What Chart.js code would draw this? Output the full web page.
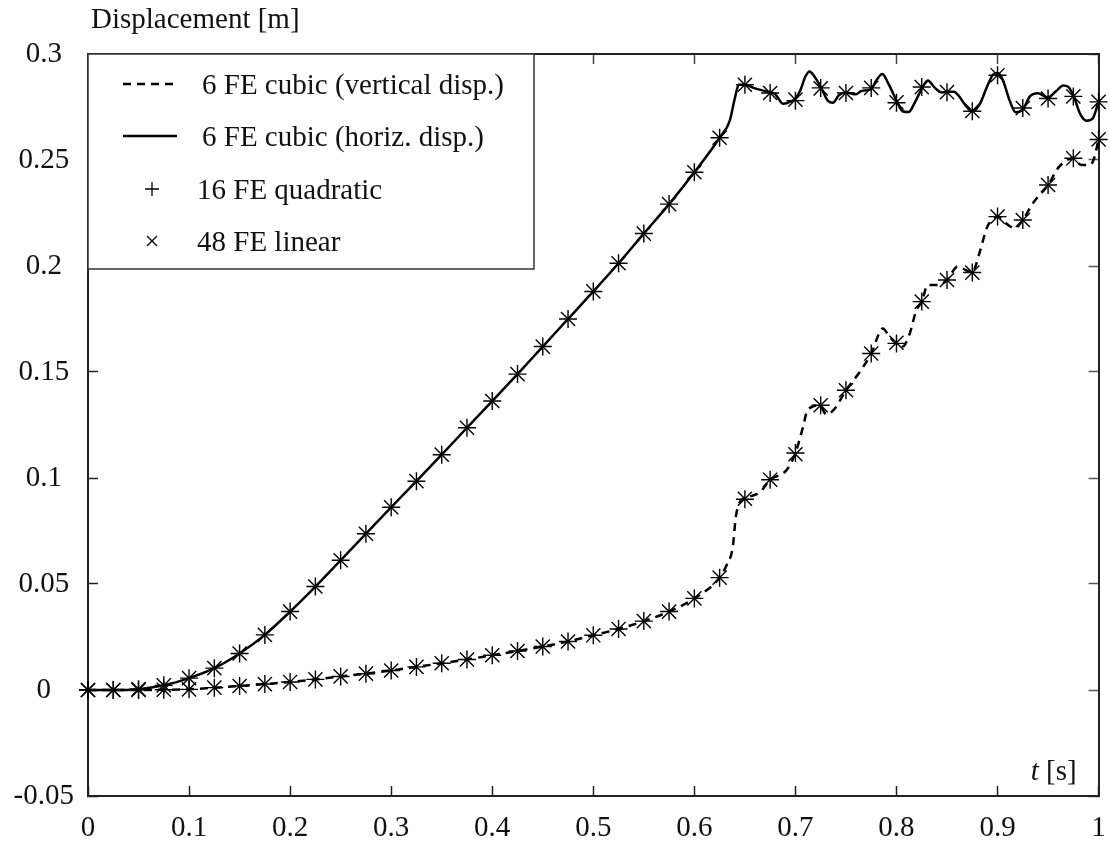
<!DOCTYPE html>
<html>
<head>
<meta charset="utf-8">
<script src="https://cdn.jsdelivr.net/npm/chart.js@4.4.1/dist/chart.umd.min.js"></script>
<style>
    body { margin: 0; background: #fff; }
    canvas { display: block; }
</style>
</head>
<body>
<canvas id="dispChart" width="1110" height="845"></canvas>
<script>
// axis ticks and labels
const xTicks = [0, 0.1, 0.2, 0.3, 0.4, 0.5, 0.6, 0.7, 0.8, 0.9, 1];
const xTickLabels = ['0', '0.1', '0.2', '0.3', '0.4', '0.5', '0.6', '0.7', '0.8', '0.9', '1'];
const yTicks = [-0.05, 0, 0.05, 0.1, 0.15, 0.2, 0.25, 0.3];
const yTickLabels = ['-0.05', '0', '0.05', '0.1', '0.15', '0.2', '0.25', '0.3'];

const seriesNames = [
    '6 FE cubic (vertical disp.)',
    '6 FE cubic (horiz. disp.)',
    '16 FE quadratic',
    '48 FE linear'
];

// 6 FE cubic - vertical displacement (dashed)
const vertT = [0, 0.025, 0.05, 0.075, 0.1, 0.125, 0.15, 0.175, 0.2, 0.225, 0.25, 0.275, 0.3, 0.325, 0.35,
    0.375, 0.4, 0.425, 0.45, 0.475, 0.5, 0.525, 0.55, 0.575, 0.6, 0.625,
    0.632, 0.638, 0.641, 0.646, 0.65, 0.665, 0.675, 0.691, 0.7, 0.7075, 0.712, 0.724, 0.7306, 0.739, 0.75,
    0.7636, 0.775, 0.7865, 0.793, 0.8, 0.806, 0.813, 0.8196, 0.825, 0.831, 0.841, 0.85, 0.8605, 0.869, 0.875,
    0.882, 0.89, 0.9, 0.9086, 0.917, 0.925, 0.935, 0.95, 0.961, 0.975, 0.983, 0.991, 0.995, 1];
const vertDisp = [0, 0, 0, 0.0001, 0.0003, 0.0011, 0.0019, 0.0028, 0.0038, 0.005, 0.0064, 0.0077, 0.0092, 0.0109, 0.0126,
    0.0144, 0.0164, 0.0184, 0.0205, 0.0229, 0.0258, 0.0288, 0.0325, 0.037, 0.0432, 0.053,
    0.059, 0.0674, 0.0816, 0.0894, 0.0905, 0.0934, 0.0992, 0.1036, 0.1118, 0.124, 0.132, 0.1343, 0.13, 0.1328, 0.1414,
    0.15, 0.1587, 0.1705, 0.1666, 0.1635, 0.162, 0.168, 0.179, 0.1832, 0.191, 0.191, 0.1934, 0.1997, 0.198, 0.1969,
    0.206, 0.2186, 0.2233, 0.22, 0.2178, 0.2217, 0.2296, 0.2382, 0.2469, 0.2508, 0.2476, 0.2476, 0.25, 0.2597];

// 6 FE cubic - horizontal displacement (solid)
const horizT = [0, 0.025, 0.05, 0.075, 0.1, 0.125, 0.15, 0.175, 0.2, 0.225, 0.25, 0.275, 0.3, 0.325, 0.35,
    0.375, 0.4, 0.425, 0.45, 0.475, 0.5, 0.525, 0.55, 0.575, 0.6, 0.625,
    0.635, 0.64, 0.644, 0.65, 0.66, 0.67, 0.68, 0.688, 0.695, 0.7, 0.705, 0.71, 0.714, 0.718, 0.725, 0.732,
    0.737, 0.743, 0.75, 0.76, 0.765, 0.775, 0.78, 0.786, 0.792, 0.8, 0.806, 0.812, 0.818, 0.825, 0.831, 0.838,
    0.845, 0.85, 0.857, 0.862, 0.868, 0.875, 0.882, 0.89, 0.896, 0.9, 0.905, 0.912, 0.918, 0.925, 0.932, 0.94,
    0.95, 0.958, 0.965, 0.97, 0.975, 0.982, 0.988, 0.994, 1];
const horizDisp = [0, 0, 0.0004, 0.0022, 0.0056, 0.0103, 0.0172, 0.026, 0.037, 0.0488, 0.0612, 0.0737, 0.0862, 0.0985, 0.111,
    0.1237, 0.1363, 0.149, 0.162, 0.175, 0.188, 0.2013, 0.2153, 0.2292, 0.2442, 0.2605,
    0.2685, 0.279, 0.2855, 0.2855, 0.2838, 0.2825, 0.281, 0.2765, 0.2775, 0.279, 0.283, 0.2895, 0.2918, 0.29, 0.2845, 0.278,
    0.277, 0.2805, 0.2818, 0.281, 0.2825, 0.2835, 0.2875, 0.2906, 0.286, 0.278, 0.273, 0.2726, 0.277, 0.2835, 0.2875, 0.284,
    0.2818, 0.2822, 0.2822, 0.28, 0.276, 0.273, 0.276, 0.285, 0.2905, 0.291, 0.288, 0.278, 0.2725, 0.2738, 0.28, 0.2815,
    0.2795, 0.2825, 0.2852, 0.2845, 0.2805, 0.2715, 0.2685, 0.2695, 0.2775];

// finer meshes, sampled every 0.025 s
const markT = [0, 0.025, 0.05, 0.075, 0.1, 0.125, 0.15, 0.175, 0.2, 0.225, 0.25, 0.275, 0.3, 0.325, 0.35, 0.375, 0.4,
    0.425, 0.45, 0.475, 0.5, 0.525, 0.55, 0.575, 0.6, 0.625, 0.65, 0.675, 0.7, 0.725, 0.75, 0.775, 0.8, 0.825,
    0.85, 0.875, 0.9, 0.925, 0.95, 0.975, 1];
const quadHoriz = [0, 0, 0.0004, 0.0022, 0.0056, 0.0103, 0.0172, 0.026, 0.037, 0.0488, 0.0612, 0.0737, 0.0862, 0.0985,
    0.111, 0.1237, 0.1363, 0.149, 0.162, 0.175, 0.188, 0.2013, 0.2153, 0.2292, 0.2442, 0.2605,
    0.2855, 0.2816, 0.278, 0.284, 0.2816, 0.284, 0.277, 0.2844, 0.282, 0.273, 0.29, 0.2745, 0.279, 0.28, 0.2774];
const quadVert = [0, 0, 0, 0.0001, 0.0003, 0.0011, 0.0019, 0.0028, 0.0038, 0.005, 0.0064, 0.0077, 0.0092, 0.0109,
    0.0126, 0.0144, 0.0164, 0.0184, 0.0205, 0.0229, 0.0258, 0.0288, 0.0325, 0.037, 0.0432, 0.053,
    0.09, 0.0992, 0.1118, 0.1343, 0.1414, 0.1587, 0.1635, 0.1832, 0.1934, 0.1969, 0.2233, 0.2217, 0.2382, 0.2508, 0.2597];
const linHoriz = [0, 0, 0.0004, 0.0022, 0.0056, 0.0103, 0.0172, 0.026, 0.037, 0.0488, 0.0612, 0.0737, 0.0862, 0.0985,
    0.111, 0.1237, 0.1363, 0.149, 0.162, 0.175, 0.188, 0.2013, 0.2153, 0.2292, 0.2442, 0.2605,
    0.2855, 0.2816, 0.2785, 0.2838, 0.2816, 0.284, 0.2772, 0.2844, 0.282, 0.2732, 0.29, 0.2745, 0.279, 0.28, 0.2774];
const linVert = [0, 0, 0, 0.0001, 0.0003, 0.0011, 0.0019, 0.0028, 0.0038, 0.005, 0.0064, 0.0077, 0.0092, 0.0109,
    0.0126, 0.0144, 0.0164, 0.0184, 0.0205, 0.0229, 0.0258, 0.0288, 0.0325, 0.037, 0.0432, 0.053,
    0.0902, 0.0992, 0.1112, 0.1343, 0.1414, 0.1587, 0.1638, 0.1832, 0.1934, 0.1969, 0.2233, 0.2217, 0.2382, 0.2508, 0.2597];

const FONT = '"Liberation Serif", "Times New Roman", serif';

function pairs(ts, vs) {
    return ts.map((t, i) => ({ x: t, y: vs[i] }));
}

// axis names + the boxed legend in the top-left corner of the plot
const frameText = {
    id: 'frameText',
    afterDraw(chart) {
        const ctx = chart.ctx;
        const area = chart.chartArea;
        ctx.save();
        ctx.fillStyle = '#111';
        ctx.textBaseline = 'alphabetic';
        ctx.textAlign = 'left';
        ctx.font = '29px ' + FONT;
        ctx.fillText('Displacement [m]', area.left + 3, 28);

        ctx.textAlign = 'right';
        const unit = ' [s]';
        ctx.fillText(unit, area.right - 22, area.bottom - 16);
        const w = ctx.measureText(unit).width;
        ctx.font = 'italic 29px ' + FONT;
        ctx.fillText('t', area.right - 22 - w, area.bottom - 16);

        // legend box
        const bx = area.left, by = area.top, bw = 446, bh = 215;
        ctx.fillStyle = '#fff';
        ctx.fillRect(bx, by, bw, bh);
        ctx.strokeStyle = '#333';
        ctx.lineWidth = 1.5;
        ctx.strokeRect(bx, by, bw, bh);

        const rows = [30, 82, 135, 187];
        ctx.font = '29px ' + FONT;
        ctx.textAlign = 'left';
        ctx.textBaseline = 'middle';
        chart.data.datasets.forEach((ds, i) => {
            const y = by + rows[i];
            ctx.strokeStyle = '#000';
            if (ds.showLine) {
                ctx.lineWidth = ds.borderWidth;
                ctx.setLineDash(ds.borderDash || []);
                ctx.beginPath();
                ctx.moveTo(bx + 35, y);
                ctx.lineTo(bx + 89, y);
                ctx.stroke();
                ctx.setLineDash([]);
            } else {
                const cx = bx + 64;
                ctx.lineWidth = 1.3;
                ctx.beginPath();
                if (ds.pointStyle === 'cross') {
                    ctx.moveTo(cx - 7, y); ctx.lineTo(cx + 7, y);
                    ctx.moveTo(cx, y - 7); ctx.lineTo(cx, y + 7);
                } else {
                    ctx.moveTo(cx - 5, y - 5); ctx.lineTo(cx + 5, y + 5);
                    ctx.moveTo(cx - 5, y + 5); ctx.lineTo(cx + 5, y - 5);
                }
                ctx.stroke();
            }
            ctx.fillStyle = '#111';
            ctx.fillText(ds.label, bx + (ds.showLine ? 114 : 109), y + 2);
        });
        ctx.restore();
    }
};

const tickFont = { family: FONT, size: 29 };

new Chart(document.getElementById('dispChart'), {
    type: 'scatter',
    data: {
        datasets: [
            {
                label: seriesNames[0],
                data: pairs(vertT, vertDisp),
                showLine: true,
                borderColor: '#000',
                borderWidth: 2.5,
                borderDash: [8, 6],
                pointRadius: 0,
                cubicInterpolationMode: 'monotone',
                clip: false
            },
            {
                label: seriesNames[1],
                data: pairs(horizT, horizDisp),
                showLine: true,
                borderColor: '#000',
                borderWidth: 2.5,
                pointRadius: 0,
                cubicInterpolationMode: 'monotone',
                clip: false
            },
            {
                label: seriesNames[2],
                data: pairs(markT, quadHoriz).concat(pairs(markT, quadVert)),
                showLine: false,
                pointStyle: 'cross',
                pointRadius: 9,
                pointBorderWidth: 1.4,
                borderColor: '#000',
                backgroundColor: '#000',
                clip: false
            },
            {
                label: seriesNames[3],
                data: pairs(markT, linHoriz).concat(pairs(markT, linVert)),
                showLine: false,
                pointStyle: 'crossRot',
                pointRadius: 10,
                pointBorderWidth: 1.4,
                borderColor: '#000',
                backgroundColor: '#000',
                clip: false
            }
        ]
    },
    options: {
        responsive: false,
        animation: false,
        layout: { padding: { top: 54, right: 11, left: 0, bottom: 0 } },
        plugins: {
            legend: { display: false },
            tooltip: { enabled: false }
        },
        scales: {
            x: {
                type: 'linear',
                position: 'bottom',
                min: 0,
                max: 1,
                afterBuildTicks: s => { s.ticks = xTicks.map(v => ({ value: v })); },
                afterFit: s => {
                    s.height = 49;
                    // end labels may overhang, keep the plot edges fixed
                    s.paddingLeft = 0;
                    s.paddingRight = 0;
                },
                ticks: {
                    callback: (v, i) => xTickLabels[i],
                    font: tickFont,
                    color: '#111',
                    padding: 25,
                    maxRotation: 0,
                    autoSkip: false
                },
                grid: { drawOnChartArea: false, tickLength: -10, tickWidth: 1.5, tickColor: '#222' },
                border: { display: true, color: '#222', width: 2 }
            },
            x2: {
                type: 'linear',
                position: 'top',
                min: 0,
                max: 1,
                afterBuildTicks: s => { s.ticks = xTicks.map(v => ({ value: v })); },
                afterFit: s => { s.height = 0; s.paddingLeft = 0; s.paddingRight = 0; },
                ticks: { display: false },
                grid: { drawOnChartArea: false, tickLength: -10, tickWidth: 1.5, tickColor: '#444' },
                border: { display: true, color: '#222', width: 2 }
            },
            y: {
                type: 'linear',
                position: 'left',
                min: -0.05,
                max: 0.3,
                afterBuildTicks: s => { s.ticks = yTicks.map(v => ({ value: v })); },
                afterFit: s => { s.width = 88; },
                ticks: {
                    callback: (v, i) => yTickLabels[i],
                    font: tickFont,
                    color: '#111',
                    padding: 24,
                    crossAlign: 'center',
                    autoSkip: false
                },
                grid: { drawOnChartArea: false, tickLength: -10, tickWidth: 1.5, tickColor: '#222' },
                border: { display: true, color: '#222', width: 2 }
            },
            y2: {
                type: 'linear',
                position: 'right',
                min: -0.05,
                max: 0.3,
                afterBuildTicks: s => { s.ticks = yTicks.map(v => ({ value: v })); },
                afterFit: s => { s.width = 0; },
                ticks: { display: false },
                grid: { drawOnChartArea: false, tickLength: -10, tickWidth: 1.5, tickColor: '#555' },
                border: { display: true, color: '#222', width: 2 }
            }
        }
    },
    plugins: [frameText]
});
</script>
</body>
</html>
